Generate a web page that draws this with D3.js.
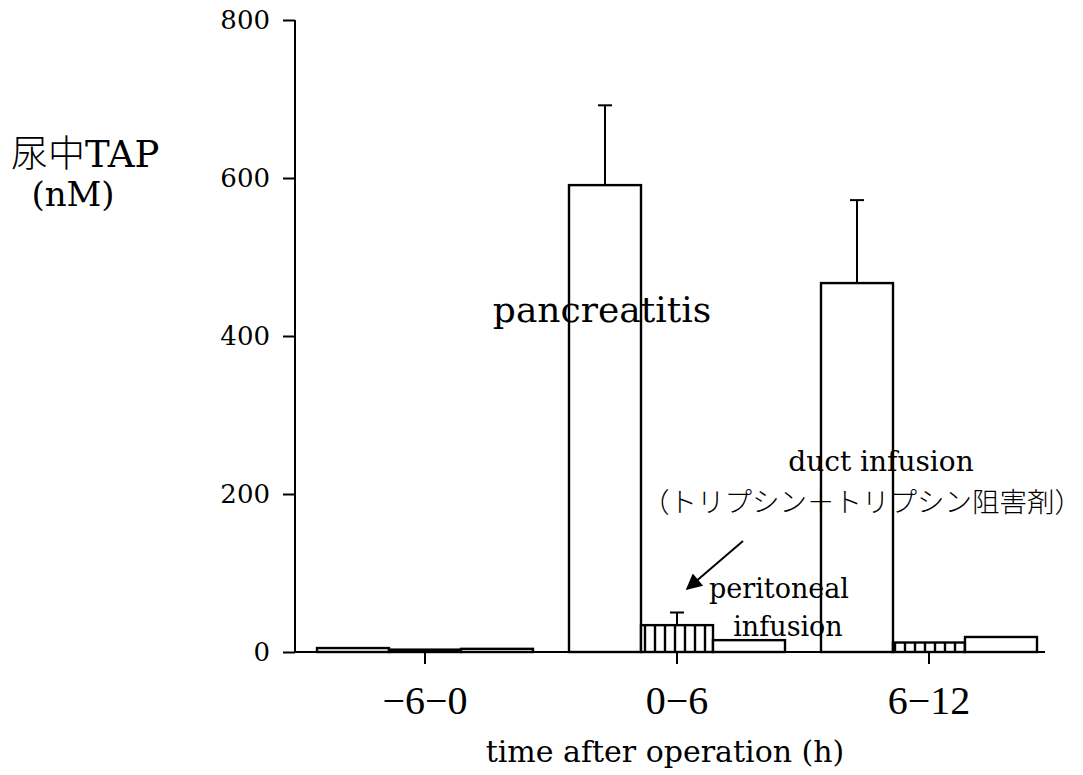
<!DOCTYPE html>
<html>
<head>
<meta charset="utf-8">
<script src="https://cdn.jsdelivr.net/npm/d3@7"></script>
<style>
  html, body { margin: 0; padding: 0; background: #fff; }
  svg { display: block; }
  text { font-family: "DejaVu Serif", "Liberation Serif", serif; fill: #000; }
  .jp { font-family: "Noto Sans CJK JP", "DejaVu Serif", serif; font-weight: 300; }
</style>
</head>
<body>
<svg id="chart" width="1083" height="775"></svg>
<script>
// Time windows after the operation
const categories = ["−6−0", "0−6", "6−12"];
// Experimental groups
const series = ["pancreatitis", "peritoneal", "duct"];
// Mean urinary TAP (nM) per window, one array per group
const pancreatitis = [5, 591, 467];
const peritoneal = [3, 34, 12];
const duct = [4, 15, 19];
// Upper end of the error bar (mean + SD); null where none is drawn
const pancreatitisErr = [null, 692, 572];
const peritonealErr = [null, 50, null];
const ductErr = [null, null, null];
const yTicks = [0, 200, 400, 600, 800];

const values = { pancreatitis, peritoneal, duct };
const errs = { pancreatitis: pancreatitisErr, peritoneal: peritonealErr, duct: ductErr };

const svg = d3.select("#chart");
const SERIF = "'DejaVu Serif', 'Liberation Serif', serif";
const TIMES = "'Liberation Serif', 'DejaVu Serif', serif";

const y = d3.scaleLinear().domain([0, 800]).range([652, 20]);
const x0 = d3.scaleBand().domain(categories).range([299, 1055]).paddingInner(0).paddingOuter(0);
const x1 = d3.scaleBand().domain(series).range([0, x0.bandwidth()]).paddingInner(0).paddingOuter(0.25);

// Hatch fill for the peritoneal-infusion group
const defs = svg.append("defs");
const pat = defs.append("pattern")
  .attr("id", "vhatch").attr("patternUnits", "userSpaceOnUse")
  .attr("width", 10).attr("height", 10);
pat.append("rect").attr("width", 10).attr("height", 10).attr("fill", "#fff");
pat.append("line").attr("x1", 5).attr("x2", 5).attr("y1", 0).attr("y2", 10)
  .attr("stroke", "#000").attr("stroke-width", 2.4);

defs.append("marker").attr("id", "arrowhead")
  .attr("viewBox", "0 0 10 10").attr("refX", 9).attr("refY", 5)
  .attr("markerWidth", 26).attr("markerHeight", 16).attr("orient", "auto")
  .attr("markerUnits", "userSpaceOnUse")
  .append("path").attr("d", "M0,0 L10,5 L0,10 Z").attr("fill", "#000");

const fills = { pancreatitis: "#fff", peritoneal: "url(#vhatch)", duct: "#fff" };

// Bars
const rows = [];
categories.forEach((c, i) => series.forEach(s => rows.push({ c, s, v: values[s][i], e: errs[s][i] })));

const g = svg.append("g");
g.selectAll("rect.bar").data(rows).join("rect")
  .attr("class", "bar")
  .attr("x", d => x0(d.c) + x1(d.s))
  .attr("y", d => y(d.v))
  .attr("width", x1.bandwidth())
  .attr("height", d => y(0) - y(d.v))
  .attr("fill", d => fills[d.s])
  .attr("stroke", "#000")
  .attr("stroke-width", 2.4);

// Upward error bars
const errRows = rows.filter(d => d.e != null);
const cx = d => x0(d.c) + x1(d.s) + x1.bandwidth() / 2;
g.selectAll("line.err").data(errRows).join("line")
  .attr("class", "err")
  .attr("x1", cx).attr("x2", cx)
  .attr("y1", d => y(d.v)).attr("y2", d => y(d.e))
  .attr("stroke", "#000").attr("stroke-width", 2);
g.selectAll("line.cap").data(errRows).join("line")
  .attr("class", "cap")
  .attr("x1", d => cx(d) - 7).attr("x2", d => cx(d) + 7)
  .attr("y1", d => y(d.e)).attr("y2", d => y(d.e))
  .attr("stroke", "#000").attr("stroke-width", 2);

// Y axis
const yAxis = svg.append("g").attr("transform", "translate(295,0)")
  .call(d3.axisLeft(y).tickValues(yTicks).tickSize(12).tickPadding(13));
yAxis.select(".domain").attr("d", `M0,${y(800)}V${y(0)}`).attr("stroke-width", 2);
yAxis.selectAll(".tick line").attr("stroke-width", 2);
yAxis.selectAll(".tick text").style("font-size", "26px").style("font-family", SERIF);

// X axis
const xAxis = svg.append("g").attr("transform", `translate(0,${y(0)})`)
  .call(d3.axisBottom(x0).tickSize(12).tickPadding(22));
xAxis.select(".domain").attr("d", `M295,0H1045`).attr("stroke-width", 2);
xAxis.selectAll(".tick line").attr("stroke-width", 2);
xAxis.selectAll(".tick text").style("font-size", "40px").style("font-family", TIMES);

// Axis titles
svg.append("text").attr("x", 665).attr("y", 762).attr("text-anchor", "middle")
  .style("font-size", "30px").text("time after operation (h)");
const yt = svg.append("text").attr("x", 11).attr("y", 167).style("font-size", "37px");
yt.append("tspan").attr("class", "jp").text("尿中");
yt.append("tspan").text("TAP");
svg.append("text").attr("x", 73).attr("y", 206).attr("text-anchor", "middle")
  .style("font-size", "34px").text("(nM)");

// Annotations
svg.append("text").attr("x", 602).attr("y", 322).attr("text-anchor", "middle")
  .style("font-size", "36px").text("pancreatitis");
svg.append("text").attr("x", 881).attr("y", 471).attr("text-anchor", "middle")
  .style("font-size", "28px").text("duct infusion");
svg.append("text").attr("class", "jp").attr("x", 862).attr("y", 512).attr("text-anchor", "middle")
  .style("font-size", "27.5px").text("（トリプシン＋トリプシン阻害剤）");
svg.append("text").attr("x", 779).attr("y", 598).attr("text-anchor", "middle")
  .style("font-size", "27px").text("peritoneal");
svg.append("text").attr("x", 788).attr("y", 636).attr("text-anchor", "middle")
  .style("font-size", "27px").text("infusion");
svg.append("line").attr("x1", 743).attr("y1", 541).attr("x2", 687).attr("y2", 589)
  .attr("stroke", "#000").attr("stroke-width", 2).attr("marker-end", "url(#arrowhead)");
</script>
</body>
</html>
